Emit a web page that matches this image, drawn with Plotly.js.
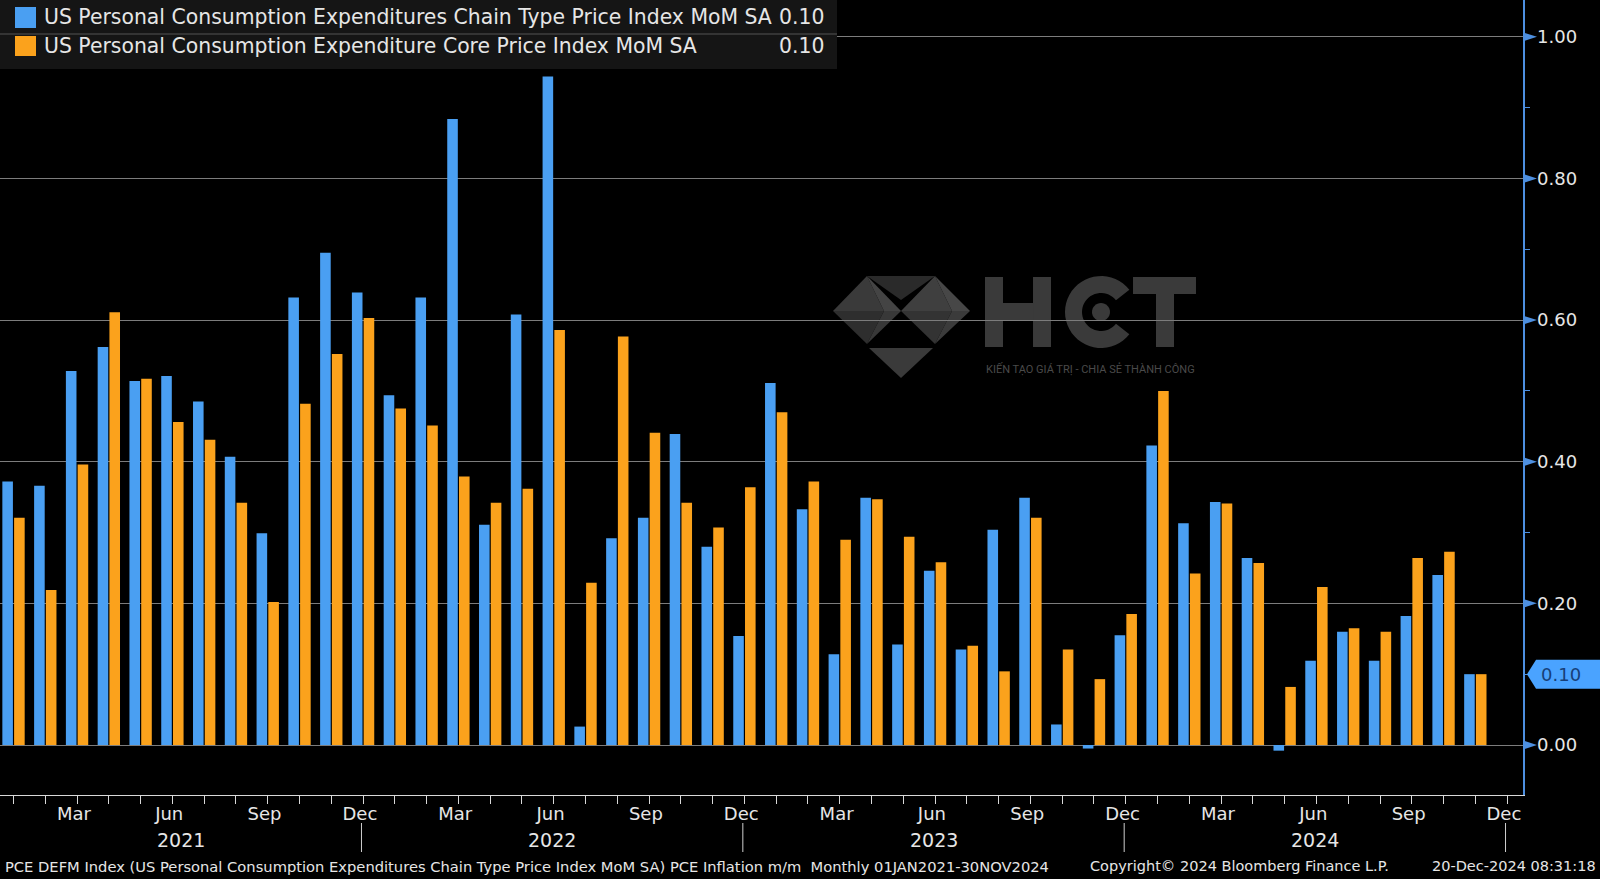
<!DOCTYPE html>
<html>
<head>
<meta charset="utf-8">
<script src="https://cdn.plot.ly/plotly-3.0.1.min.js"></script>
<style>
html,body{margin:0;padding:0;background:#000;}
#chart{width:1600px;height:879px;}
</style>
</head>
<body>
<div id="chart"></div>
<script>
// ---- data (monthly, Jan 2021 .. Nov 2024) ----
const monthLabels = ['Jan 2021','Feb 2021','Mar 2021','Apr 2021','May 2021','Jun 2021','Jul 2021','Aug 2021','Sep 2021','Oct 2021','Nov 2021','Dec 2021',
  'Jan 2022','Feb 2022','Mar 2022','Apr 2022','May 2022','Jun 2022','Jul 2022','Aug 2022','Sep 2022','Oct 2022','Nov 2022','Dec 2022',
  'Jan 2023','Feb 2023','Mar 2023','Apr 2023','May 2023','Jun 2023','Jul 2023','Aug 2023','Sep 2023','Oct 2023','Nov 2023','Dec 2023',
  'Jan 2024','Feb 2024','Mar 2024','Apr 2024','May 2024','Jun 2024','Jul 2024','Aug 2024','Sep 2024','Oct 2024','Nov 2024'];
const headlinePCE = [0.372,0.366,0.528,0.562,0.514,0.521,0.485,0.407,0.299,0.632,0.695,0.639,
  0.494,0.632,0.884,0.311,0.608,0.944,0.026,0.292,0.321,0.439,0.280,0.154,
  0.511,0.333,0.128,0.349,0.142,0.246,0.135,0.304,0.349,0.029,-0.005,0.155,
  0.423,0.313,0.343,0.264,-0.008,0.119,0.160,0.119,0.182,0.240,0.10];
const corePCE = [0.321,0.219,0.396,0.611,0.517,0.456,0.431,0.342,0.202,0.482,0.552,0.603,
  0.475,0.451,0.379,0.342,0.362,0.586,0.229,0.577,0.441,0.342,0.307,0.364,
  0.470,0.372,0.290,0.347,0.294,0.258,0.140,0.104,0.321,0.135,0.093,0.185,
  0.500,0.242,0.341,0.257,0.082,0.223,0.165,0.160,0.264,0.273,0.10];
const seriesNames = ['US Personal Consumption Expenditures Chain Type Price Index MoM SA',
                     'US Personal Consumption Expenditure Core Price Index MoM SA'];
const lastValues = ['0.10','0.10'];
const monthTickNames = {2:'Mar',5:'Jun',8:'Sep',11:'Dec'};
const yearLabels = ['2021','2022','2023','2024'];
const yTickVals = [0,0.2,0.4,0.6,0.8,1.0];
const footerLeft = 'PCE DEFM Index (US Personal Consumption Expenditures Chain Type Price Index MoM SA) PCE Inflation m/m  Monthly 01JAN2021-30NOV2024';
const footerMid = 'Copyright\u00A9 2024 Bloomberg Finance L.P.';
const footerRight = '20-Dec-2024 08:31:18';
const watermarkSub = 'KIẾN TẠO GIÁ TRỊ - CHIA SẺ THÀNH CÔNG';

// ---- styling ----
const BLUE = '#4a9ff2', ORANGE = '#fba21c', AXBLUE = '#4d8fe0';
const FONT = 'DejaVu Sans, Arial, sans-serif';
const W = 1600, H = 879, ML = 0, MR = 77, MT = 0, MB = 84;
const PW = W - ML - MR, PH = H - MT - MB;
const px = x => (x - ML) / PW;          // pixel -> paper (x)
const py = y => 1 - (y - MT) / PH;      // pixel -> paper (y)

const idx = monthLabels.map((_, i) => i);
const xMin = -0.425, xMax = 47.5;

const tickVals = [], tickText = [];
for (let i = 0; i <= 47; i++) {
  const m = i % 12;
  if (monthTickNames[m]) { tickVals.push(i - 0.1); tickText.push(monthTickNames[m]); }
}
const allMonths = []; for (let i = 0; i <= 47; i++) allMonths.push(i);
const decIdx = allMonths.filter(i => i % 12 === 11);

const traces = [
  {type:'bar', x: idx, y: headlinePCE, name: seriesNames[0], marker:{color:BLUE}, hoverinfo:'y'},
  {type:'bar', x: idx, y: corePCE, name: seriesNames[1], marker:{color:ORANGE}, hoverinfo:'y'}
];

const shapes = [];
const annotations = [];

// ---- watermark (HCT logo), decorative, drawn below the grid ----
function poly(pts, color){
  shapes.push({type:'path', xref:'paper', yref:'paper', layer:'below', line:{width:0},
    fillcolor:color, path: pts.map((p,i)=> (i?'L':'M') + px(p[0]).toFixed(5) + ',' + py(p[1]).toFixed(5)).join(' ') + ' Z'});
}
function rect(x0,y0,x1,y1,color){ poly([[x0,y0],[x1,y0],[x1,y1],[x0,y1]], color); }
function ring(cx,cy,ro,ri,a0,a1,color){
  const pts=[]; const n=40;
  for(let k=0;k<=n;k++){const a=(a0+(a1-a0)*k/n)*Math.PI/180; pts.push([cx+ro*Math.cos(a), cy-ro*Math.sin(a)]);}
  for(let k=n;k>=0;k--){const a=(a0+(a1-a0)*k/n)*Math.PI/180; pts.push([cx+ri*Math.cos(a), cy-ri*Math.sin(a)]);}
  poly(pts,color);
}
function disc(cx,cy,r,color){ const pts=[]; for(let k=0;k<32;k++){const a=k/32*2*Math.PI; pts.push([cx+r*Math.cos(a), cy-r*Math.sin(a)]);} poly(pts,color); }
const L=[833,311],TL=[867,276],C=[901,311],BL=[867,344],TR=[935,276],R=[970,311],BR=[935,344],B=[901,378];
poly([L,TL,[884,311]], '#3a3a3a'); poly([L,[884,311],BL], '#2e2e2e');
poly([TL,C,[884,311]], '#444444'); poly([[884,311],C,BL], '#383838');
poly([C,TR,[952,311]], '#3f3f3f'); poly([TR,R,[952,311]], '#474747');
poly([C,[952,311],BR], '#333333'); poly([[952,311],R,BR], '#3b3b3b');
poly([TL,TR,[901,300]], '#2a2a2a');
poly([[869,348],[933,348],B], '#3a3a3a');
const WM = '#3a3a3a';
rect(985,277,1003,347,WM); rect(1033,277,1051,347,WM); rect(1003,303,1033,320,WM);      // H
ring(1101,312,36,19,38,322,WM); disc(1101,312,9,WM);                                    // C
rect(1133,277,1196,294,WM); rect(1156,294,1174,347,WM);                                  // T
annotations.push({xref:'paper', yref:'paper', x:px(1090), y:py(369), text:watermarkSub, showarrow:false,
  xanchor:'center', yanchor:'middle', font:{family:'Roboto, sans-serif', size:11, color:'#4a4a4a'}});

// ---- legend box (top-left) ----
shapes.push({type:'rect', xref:'paper', yref:'paper', x0:px(0), x1:px(837), y0:py(0), y1:py(69),
  fillcolor:'#151515', line:{width:0}, layer:'above'});
shapes.push({type:'line', xref:'paper', yref:'paper', x0:px(0), x1:px(837), y0:py(34), y1:py(34),
  line:{color:'#555555', width:1}, layer:'above'});
[[BLUE,7,28,17],[ORANGE,36,56,46]].forEach((r, k) => {
  shapes.push({type:'rect', xref:'paper', yref:'paper', x0:px(15), x1:px(36), y0:py(r[1]), y1:py(r[2]),
    fillcolor:r[0], line:{width:0}, layer:'above'});
  annotations.push({xref:'paper', yref:'paper', x:px(42), y:py(r[3]), text:seriesNames[k], showarrow:false,
    xanchor:'left', yanchor:'middle', font:{family:FONT, size:20.4, color:'#e6e6e6'}});
  annotations.push({xref:'paper', yref:'paper', x:px(826), y:py(r[3]), text:lastValues[k], showarrow:false,
    xanchor:'right', yanchor:'middle', font:{family:FONT, size:20.4, color:'#e6e6e6'}});
});

// ---- right axis arrow markers at major ticks ----
yTickVals.forEach(v => {
  shapes.push({type:'path', xref:'paper', yref:'y', xsizemode:'pixel', ysizemode:'pixel', xanchor:1, yanchor:v,
    path:'M0,4.5 L14,0 L0,-4.5 Z', fillcolor:AXBLUE, line:{width:0}, layer:'above'});
});
// last value tag
const lastV = headlinePCE[headlinePCE.length-1];
shapes.push({type:'path', xref:'paper', yref:'y', xsizemode:'pixel', ysizemode:'pixel', xanchor:1, yanchor:lastV,
  path:'M4,0 L13,14.5 L80,14.5 L80,-14.5 L13,-14.5 Z', fillcolor:'#4aa3ff', line:{width:0}, layer:'above'});
annotations.push({xref:'paper', yref:'y', x:1, xshift:16, y:lastV, text:lastValues[0],
  showarrow:false, xanchor:'left', yanchor:'middle', font:{family:FONT, size:18, color:'#173f78'}});

// ---- year separators and year labels ----
decIdx.forEach(d => {
  shapes.push({type:'line', xref:'x', yref:'paper', ysizemode:'pixel', yanchor:0, x0:d-0.05, x1:d-0.05, y0:-28, y1:-57,
    line:{color:'#cfcfcf', width:1}});
});
yearLabels.forEach((yr, k) => {
  const left = k === 0 ? xMin : decIdx[k-1] - 0.05;
  const right = decIdx[k] - 0.05;
  annotations.push({xref:'x', yref:'paper', x:(left+right)/2, y:0, yshift:-45, text:yr, showarrow:false,
    xanchor:'center', yanchor:'middle', font:{family:FONT, size:19, color:'#e6e6e6'}});
});

// ---- footer ----
annotations.push({xref:'paper', yref:'paper', x:px(3), y:0, yshift:-71, text:footerLeft, showarrow:false,
  xanchor:'left', yanchor:'middle', font:{family:FONT, size:14.7, color:'#e6e6e6'}});
annotations.push({xref:'paper', yref:'paper', x:px(1088), y:0, yshift:-71, text:footerMid, showarrow:false,
  xanchor:'left', yanchor:'middle', font:{family:FONT, size:14.5, color:'#e6e6e6'}});
annotations.push({xref:'paper', yref:'paper', x:px(1598), y:0, yshift:-71, text:footerRight, showarrow:false,
  xanchor:'right', yanchor:'middle', font:{family:FONT, size:14.5, color:'#e6e6e6'}});

const layout = {
  width:W, height:H,
  margin:{l:ML, r:MR, t:MT, b:MB, pad:0},
  paper_bgcolor:'#000', plot_bgcolor:'#000',
  showlegend:false,
  barmode:'group', bargap:0.26, bargroupgap:0.1,
  font:{family:FONT, color:'#e6e6e6'},
  xaxis:{
    range:[xMin, xMax], tickmode:'array', tickvals:tickVals, ticktext:tickText,
    ticks:'outside', ticklen:0, tickcolor:'rgba(0,0,0,0)',
    minor:{tickmode:'array', tickvals:allMonths, ticks:'outside', ticklen:8, tickcolor:'#d8d8d8', tickwidth:1, showgrid:false},
    showline:true, linecolor:'#d8d8d8', linewidth:1, showgrid:false, zeroline:false,
    tickfont:{family:FONT, size:18, color:'#e6e6e6'}, ticklabelstandoff:2, fixedrange:true
  },
  yaxis:{
    side:'right', range:[-0.0706, 1.052], tickmode:'array', tickvals:yTickVals,
    ticktext:yTickVals.map(v => v.toFixed(2)),
    ticks:'outside', ticklen:9, tickcolor:'rgba(0,0,0,0)',
    minor:{dtick:0.1, tick0:0, ticks:'outside', ticklen:5, tickcolor:AXBLUE, tickwidth:1, showgrid:false},
    showline:true, linecolor:AXBLUE, linewidth:1.5,
    showgrid:true, gridcolor:'#7c7c7c', gridwidth:1, zeroline:false,
    tickfont:{family:FONT, size:18, color:'#e6e6e6'}, fixedrange:true
  },
  shapes:shapes, annotations:annotations
};

Plotly.newPlot('chart', traces, layout, {displayModeBar:false, staticPlot:true});
</script>
</body>
</html>
